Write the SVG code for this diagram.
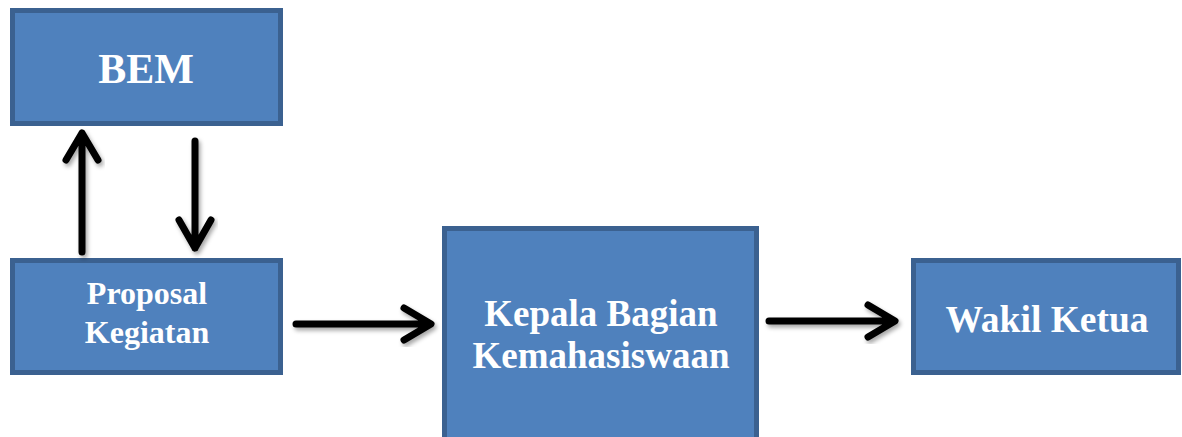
<svg xmlns="http://www.w3.org/2000/svg" width="1182" height="437" viewBox="0 0 1182 437">
  <style>
    .box { fill: #4f81bd; stroke: #3b6190; stroke-width: 5; }
    .lbl { font-family: "Liberation Serif", "Times New Roman", serif; font-weight: bold; fill: #ffffff; text-anchor: middle; }
    .arr { fill: none; stroke: #000000; stroke-width: 7; stroke-linecap: round; stroke-linejoin: round; filter: url(#sh); }
  </style>
  <defs>
    <filter id="sh" x="-20%" y="-20%" width="140%" height="140%">
      <feDropShadow dx="2" dy="3" stdDeviation="2" flood-color="#000" flood-opacity="0.35"/>
    </filter>
  </defs>
  <rect width="1182" height="437" fill="#ffffff"/>
  <g id="bem">
    <rect class="box" x="12.5" y="10.5" width="268" height="113"/>
    <text class="lbl" x="146" y="83" font-size="42">BEM</text>
  </g>
  <g id="proposal">
    <rect class="box" x="12.5" y="260.5" width="268" height="112"/>
    <text class="lbl" x="147" y="304" font-size="32">Proposal</text>
    <text class="lbl" x="147" y="343" font-size="32">Kegiatan</text>
  </g>
  <g id="kepala">
    <rect class="box" x="444.5" y="228.5" width="312" height="230"/>
    <text class="lbl" x="601" y="326" font-size="37">Kepala Bagian</text>
    <text class="lbl" x="601" y="368" font-size="37">Kemahasiswaan</text>
  </g>
  <g id="wakil">
    <rect class="box" x="913.5" y="260.5" width="265" height="112"/>
    <text class="lbl" x="1047" y="332" font-size="37.5">Wakil Ketua</text>
  </g>
  <g id="connectors">
    <path class="arr" d="M82,252 V133 M66,160 L82,133 L98,160"/>
    <path class="arr" d="M195,141 V248 M179,220 L195,248 L211,220"/>
    <path class="arr" d="M296,324 H430 M404,308 L431,324 L404,340"/>
    <path class="arr" d="M769,321 H894 M868,305 L895,321 L868,337"/>
  </g>
</svg>
